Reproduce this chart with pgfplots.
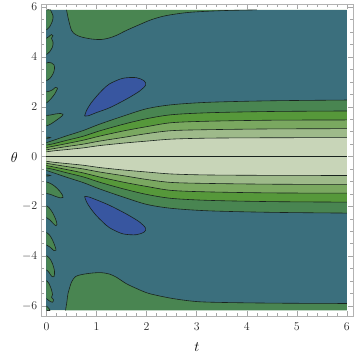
\documentclass[border=0pt]{standalone}
\usepackage{pgfplots}
\pgfplotsset{compat=1.18}
\usepgfplotslibrary{fillbetween}
\definecolor{bgc}{RGB}{59,111,125}
\definecolor{dg}{RGB}{73,133,81}
\definecolor{g2}{RGB}{86,152,58}
\definecolor{g3}{RGB}{122,168,96}
\definecolor{g4}{RGB}{158,186,138}
\definecolor{g5}{RGB}{200,213,184}
\definecolor{bl}{RGB}{56,86,160}
\definecolor{lc}{RGB}{25,35,30}
\begin{document}
\begin{tikzpicture}
\begin{axis}[set layers, scale only axis, width=313.5bp, height=313.3bp,
  xmin=-0.113, xmax=6.123, ymin=-6.41, ymax=6.12,
  xtick={0,...,6}, ytick={-6,-4,...,6}, minor x tick num=4, minor y tick num=3,
  axis line style={gray!60, line width=0.6bp}, tick style={gray!70, line width=0.5bp},
  major tick length=5bp, minor tick length=3bp,
  tick label style={font=\fontsize{13}{15}\selectfont, black!85},
  xticklabel style={yshift=-3bp},
  every axis x label/.style={at={(axis description cs:0.5,-0.1)}, anchor=center},
  every axis y label/.style={at={(axis description cs:-0.085,0.508)}, anchor=center},
  label style={font=\fontsize{14}{16}\selectfont},
  xlabel={$t$}, ylabel={$\theta$},
  every axis plot/.append style={line width=0.6bp}]

% plot region background
\addplot[draw=none, name path=etop] coordinates {(0,5.89) (6,5.89)};
\addplot[draw=none, name path=ebot] coordinates {(0,-6.18) (6,-6.18)};
\addplot[bgc] fill between[of=etop and ebot];

% top and bottom green regions
\addplot[lc, smooth, name path=tg] coordinates {(0.40,5.89) (0.44,5.5) (0.50,5.07) (0.58,4.9) (0.70,4.8) (0.9,4.72) (1.09,4.70) (1.25,4.76) (1.39,4.86) (1.6,5.07) (1.86,5.30) (2.1,5.5) (2.39,5.66) (2.85,5.79) (3.51,5.86) (4.2,5.89)};
\addplot[dg] fill between[of=tg and etop];
\addplot[lc, smooth, name path=bg] coordinates {(0.38,-6.18) (0.41,-5.8) (0.43,-5.5) (0.50,-5.04) (0.58,-4.82) (0.70,-4.74) (0.9,-4.68) (1.09,-4.66) (1.26,-4.72) (1.4,-4.85) (1.59,-5.1) (1.8,-5.3) (2.05,-5.5) (2.52,-5.7) (3.05,-5.83) (3.85,-5.87) (4.8,-5.89) (6,-5.9)};
\addplot[dg] fill between[of=bg and ebot];

% bands
\addplot[lc, smooth, name path=u1] coordinates {(0,0.56) (0.15,0.66) (0.4,0.83) (0.74,1.05) (1.06,1.3) (1.54,1.63) (2.0,1.92) (2.5,2.08) (3.25,2.18) (4.5,2.24) (6,2.27)};
\addplot[lc, smooth, name path=d1] coordinates {(0,-0.56) (0.15,-0.66) (0.4,-0.83) (0.74,-1.05) (1.06,-1.3) (1.54,-1.63) (2.0,-1.92) (2.5,-2.08) (3.25,-2.18) (4.5,-2.24) (6,-2.27)};
\addplot[dg] fill between[of=u1 and d1];
\addplot[lc, smooth, name path=u2] coordinates {(0,0.46) (0.15,0.52) (0.4,0.65) (0.74,0.82) (1.06,1.03) (1.54,1.3) (2.0,1.52) (2.5,1.68) (3.25,1.76) (4.5,1.81) (6,1.83)};
\addplot[lc, smooth, name path=d2] coordinates {(0,-0.46) (0.15,-0.52) (0.4,-0.65) (0.74,-0.82) (1.06,-1.03) (1.54,-1.3) (2.0,-1.52) (2.5,-1.68) (3.25,-1.76) (4.5,-1.81) (6,-1.83)};
\addplot[g2] fill between[of=u2 and d2];
\addplot[lc, smooth, name path=u3] coordinates {(0,0.36) (0.15,0.42) (0.4,0.52) (0.74,0.66) (1.06,0.82) (1.54,1.03) (2.0,1.2) (2.5,1.36) (3.25,1.42) (4.5,1.46) (6,1.47)};
\addplot[lc, smooth, name path=d3] coordinates {(0,-0.36) (0.15,-0.42) (0.4,-0.52) (0.74,-0.66) (1.06,-0.82) (1.54,-1.03) (2.0,-1.2) (2.5,-1.36) (3.25,-1.42) (4.5,-1.46) (6,-1.47)};
\addplot[g3] fill between[of=u3 and d3];
\addplot[lc, smooth, name path=u4] coordinates {(0,0.27) (0.15,0.32) (0.4,0.40) (0.74,0.50) (1.06,0.62) (1.54,0.77) (2.0,0.92) (2.5,1.04) (3.25,1.08) (4.5,1.11) (6,1.12)};
\addplot[lc, smooth, name path=d4] coordinates {(0,-0.27) (0.15,-0.32) (0.4,-0.40) (0.74,-0.50) (1.06,-0.62) (1.54,-0.77) (2.0,-0.92) (2.5,-1.04) (3.25,-1.08) (4.5,-1.11) (6,-1.12)};
\addplot[g4] fill between[of=u4 and d4];
\addplot[lc, smooth, name path=u5] coordinates {(0,0.19) (0.15,0.23) (0.4,0.28) (0.74,0.35) (1.06,0.44) (1.54,0.54) (2.0,0.62) (2.5,0.70) (3.25,0.74) (4.5,0.755) (6,0.76)};
\addplot[lc, smooth, name path=d5] coordinates {(0,-0.19) (0.15,-0.23) (0.4,-0.28) (0.74,-0.35) (1.06,-0.44) (1.54,-0.54) (2.0,-0.62) (2.5,-0.70) (3.25,-0.74) (4.5,-0.755) (6,-0.76)};
\addplot[g5] fill between[of=u5 and d5];
\addplot[lc] coordinates {(0,0) (6,0)};

% blue blobs
\addplot[smooth, fill=bl, draw=lc] coordinates {(0.76,1.63) (0.8,1.85) (0.88,2.12) (1.0,2.42) (1.12,2.68) (1.26,2.92) (1.52,3.14) (1.79,3.17) (1.95,3.04) (1.98,2.87) (1.86,2.63) (1.59,2.3) (1.26,1.96) (0.99,1.76) (0.84,1.64) (0.76,1.63)};
\addplot[smooth, fill=bl, draw=lc] coordinates {(0.76,-1.6) (0.84,-1.62) (1.0,-1.74) (1.26,-1.96) (1.59,-2.3) (1.86,-2.63) (1.98,-2.88) (1.95,-3.03) (1.79,-3.14) (1.52,-3.1) (1.26,-2.86) (1.12,-2.62) (1.0,-2.38) (0.88,-2.08) (0.8,-1.82) (0.76,-1.6)};

% islands at the left edge
\addplot[smooth, fill=dg, draw=lc] coordinates {(0,1.23) (0.08,1.3) (0.17,1.42) (0.26,1.55) (0.32,1.65) (0.33,1.7) (0.28,1.73) (0.18,1.71) (0.08,1.67) (0,1.65)};
\addplot[smooth, fill=dg, draw=lc] coordinates {(0,2.15) (0.08,2.3) (0.16,2.5) (0.2,2.65) (0.22,2.75) (0.18,2.78) (0.12,2.68) (0.05,2.62) (0,2.6)};
\addplot[smooth, fill=dg, draw=lc] coordinates {(0,3.05) (0.07,3.14) (0.13,3.32) (0.16,3.52) (0.15,3.68) (0.1,3.76) (0.04,3.78) (0,3.75)};
\addplot[smooth, fill=dg, draw=lc] coordinates {(0,4.1) (0.06,4.2) (0.12,4.4) (0.13,4.6) (0.1,4.75) (0.13,4.85) (0.1,4.9) (0.05,4.82) (0,4.75)};
\addplot[smooth, fill=dg, draw=lc] coordinates {(0,5.09) (0.06,5.2) (0.12,5.45) (0.13,5.65) (0.1,5.8) (0.08,5.89) (0,5.89)};
\addplot[smooth, fill=dg, draw=lc] coordinates {(0,-1.02) (0.08,-1.08) (0.17,-1.2) (0.26,-1.38) (0.32,-1.55) (0.33,-1.64) (0.28,-1.66) (0.18,-1.6) (0.08,-1.52) (0,-1.48)};
\addplot[smooth, fill=dg, draw=lc] coordinates {(0,-1.98) (0.05,-2.05) (0.12,-2.25) (0.18,-2.5) (0.21,-2.72) (0.19,-2.78) (0.14,-2.7) (0.07,-2.55) (0,-2.45)};
\addplot[smooth, fill=dg, draw=lc] coordinates {(0,-3.05) (0.06,-3.15) (0.12,-3.35) (0.17,-3.6) (0.19,-3.76) (0.15,-3.78) (0.08,-3.65) (0,-3.55)};
\addplot[smooth, fill=dg, draw=lc] coordinates {(0,-3.98) (0.06,-4.08) (0.12,-4.3) (0.16,-4.6) (0.15,-4.82) (0.1,-4.8) (0.05,-4.65) (0,-4.55)};
\addplot[smooth, fill=dg, draw=lc] coordinates {(0,-4.98) (0.05,-5.1) (0.1,-5.35) (0.12,-5.55) (0.1,-5.65) (0.14,-5.75) (0.12,-5.85) (0.06,-5.8) (0,-5.7)};
\addplot[smooth, fill=dg, draw=lc] coordinates {(0,-6.0) (0.04,-6.08) (0.07,-6.18) (0,-6.18)};
\addplot[smooth, fill=dg, draw=lc] coordinates {(0,0.73) (0.05,0.74) (0.08,0.76) (0.04,0.78) (0,0.78)};
\addplot[smooth, fill=dg, draw=lc] coordinates {(0,-0.73) (0.05,-0.74) (0.08,-0.76) (0.04,-0.78) (0,-0.78)};
\end{axis}
\path (-41bp,-45bp) (314bp,316bp);
\end{tikzpicture}
\end{document}
